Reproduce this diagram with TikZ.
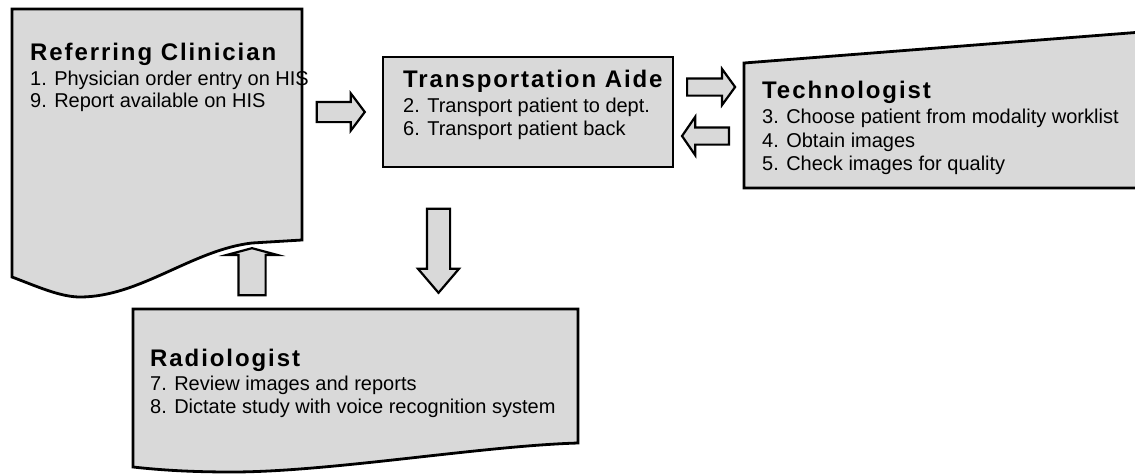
\documentclass[tikz,border=0pt]{standalone}
\usepackage{fontspec}
\setmainfont{Liberation Sans}
\newfontfamily\headfont{Liberation Sans}[LetterSpace=8]
\usetikzlibrary{shapes.arrows}
\definecolor{boxfill}{gray}{0.85}
\tikzset{
  box/.style={draw=black, line width=2.8pt, fill=boxfill, line join=miter},
  blockarrow/.style={single arrow, draw=black, line width=2.2pt, fill=boxfill,
    inner xsep=0pt, single arrow head indent=0pt},
  heading/.style={anchor=base west, inner sep=0pt,
    font=\headfont\bfseries\fontsize{24}{28}\selectfont},
  item/.style={anchor=base west, inner sep=0pt, font=\fontsize{20}{24}\selectfont},
}
\begin{document}
\begin{tikzpicture}[x=1pt, y=-1pt]
\useasboundingbox (0,0) rectangle (1135,474);

% Referring clinician (document shape with wavy bottom)
\draw[box] (12,9) -- (302,9) -- (302,240) -- (252,243)
  .. controls (192,250) and (140,297) .. (80,297)
  .. controls (60,297) and (36,286) .. (12,277) -- cycle;
\node[heading] (rc) at (30,60) {Referring Clinician};
\node[item] (rc1) at (30,85) {1. Physician order entry on HIS};
\node[item] (rc9) at (30,107) {9. Report available on HIS};

% Transportation aide
\draw[box] (383,57) rectangle (673,167);
\node[heading] (ta) at (403,87) {Transportation Aide};
\node[item] (ta2) at (403,112) {2. Transport patient to dept.};
\node[item] (ta6) at (403,135) {6. Transport patient back};

% Technologist (slanted top, open to the right)
\draw[box] (744,63) -- (1142,32) -- (1142,188) -- (744,188) -- cycle;
\node[heading] (te) at (762,98) {Technologist};
\node[item] (te3) at (762,123) {3. Choose patient from modality worklist};
\node[item] (te4) at (762,147) {4. Obtain images};
\node[item] (te5) at (762,170) {5. Check images for quality};

% Radiologist (document shape with wavy bottom)
\draw[box] (133,309) -- (578,309) -- (578,443)
  .. controls (480,446) and (330,472) .. (232,472)
  .. controls (190,472) and (160,470) .. (133,467) -- cycle;
\node[heading] (ra) at (150,366) {Radiologist};
\node[item] (ra7) at (150,390) {7. Review images and reports};
\node[item] (ra8) at (150,413) {8. Dictate study with voice recognition system};

% Block arrows: shaft width = twice the inner sep across the arrow,
% head width = shaft + 2*extend
\node[blockarrow, minimum height=48pt, inner ysep=9pt,
  single arrow head extend=8.5pt, single arrow tip angle=106] (a1) at (337,112) {};
\node[blockarrow, minimum height=48pt, inner ysep=7.5pt,
  single arrow head extend=9.5pt, single arrow tip angle=108] (a2) at (708,87) {};
\node[blockarrow, minimum height=47pt, inner ysep=7.5pt,
  single arrow head extend=10.5pt, single arrow tip angle=111,
  shape border rotate=180] (a3) at (708.5,136) {};
\node[blockarrow, minimum height=84pt, inner xsep=10.5pt, inner ysep=10.5pt,
  single arrow head extend=9pt, single arrow tip angle=81,
  shape border rotate=270] (a4) at (438.5,244) {};
\node[blockarrow, minimum height=47pt, inner xsep=12.5pt, inner ysep=12.5pt,
  single arrow head extend=11.5pt, single arrow tip angle=150,
  shape border rotate=90] (a5) at (252,273.5) {};
\end{tikzpicture}
\end{document}
